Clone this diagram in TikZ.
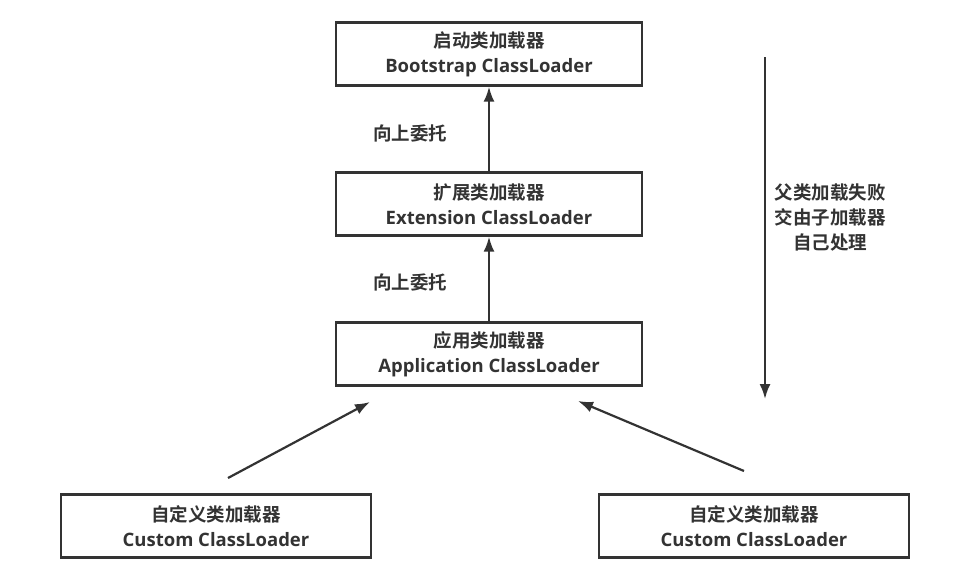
\documentclass[tikz,border=0pt]{standalone}
\usepackage{fontspec}
\setmainfont{Open Sans}
\newfontfamily\cjk{Noto Sans CJK SC}[BoldFont={* Bold}]
\usetikzlibrary{arrows.meta}
\definecolor{ink}{HTML}{333333}
\newcommand{\zh}[1]{{\cjk\bfseries\fontsize{18.5}{25}\selectfont #1}}
\begin{document}
\begin{tikzpicture}[x=1pt,y=-1pt,
  box/.style={draw=ink,line width=2.4pt,minimum width=306pt,minimum height=63pt,
    align=center,text=ink,font=\fontsize{18.5}{25}\selectfont\bfseries,inner sep=0pt},
  arr/.style={draw=ink,line width=2.2pt,-{Latex[length=15pt,width=11pt]}},
  lbl/.style={text=ink,font=\cjk\bfseries\fontsize{18.5}{25}\selectfont,align=center,inner sep=0pt}]
\useasboundingbox (0,0) rectangle (973,578);
\node[box] (boot) at (489,54) {\zh{启动类加载器}\\Bootstrap ClassLoader};
\node[box] (ext) at (489,204) {\zh{扩展类加载器}\\Extension ClassLoader};
\node[box] (app) at (489,354) {\zh{应用类加载器}\\Application ClassLoader};
\node[box,minimum width=310pt] (c1) at (216,526) {\zh{自定义类加载器}\\Custom ClassLoader};
\node[box,minimum width=310pt] (c2) at (754,526) {\zh{自定义类加载器}\\Custom ClassLoader};
\draw[arr] (ext.north) -- (boot.south);
\draw[arr] (app.north) -- (ext.south);
\coordinate (a1s) at (228,478);
\coordinate (a1e) at (370,402);
\coordinate (a2s) at (744,471);
\coordinate (a2e) at (578,401);
\draw[arr] (a1s) -- (a1e);
\draw[arr] (a2s) -- (a2e);
\coordinate (rs) at (765,57);
\coordinate (re) at (765,399);
\draw[arr] (rs) -- (re);
\node[lbl] (l1) at (410,133) {向上委托};
\node[lbl] (l2) at (410,282) {向上委托};
\node[lbl] (l3) at (830,218) {父类加载失败\\交由子加载器\\自己处理};
\end{tikzpicture}
\end{document}
